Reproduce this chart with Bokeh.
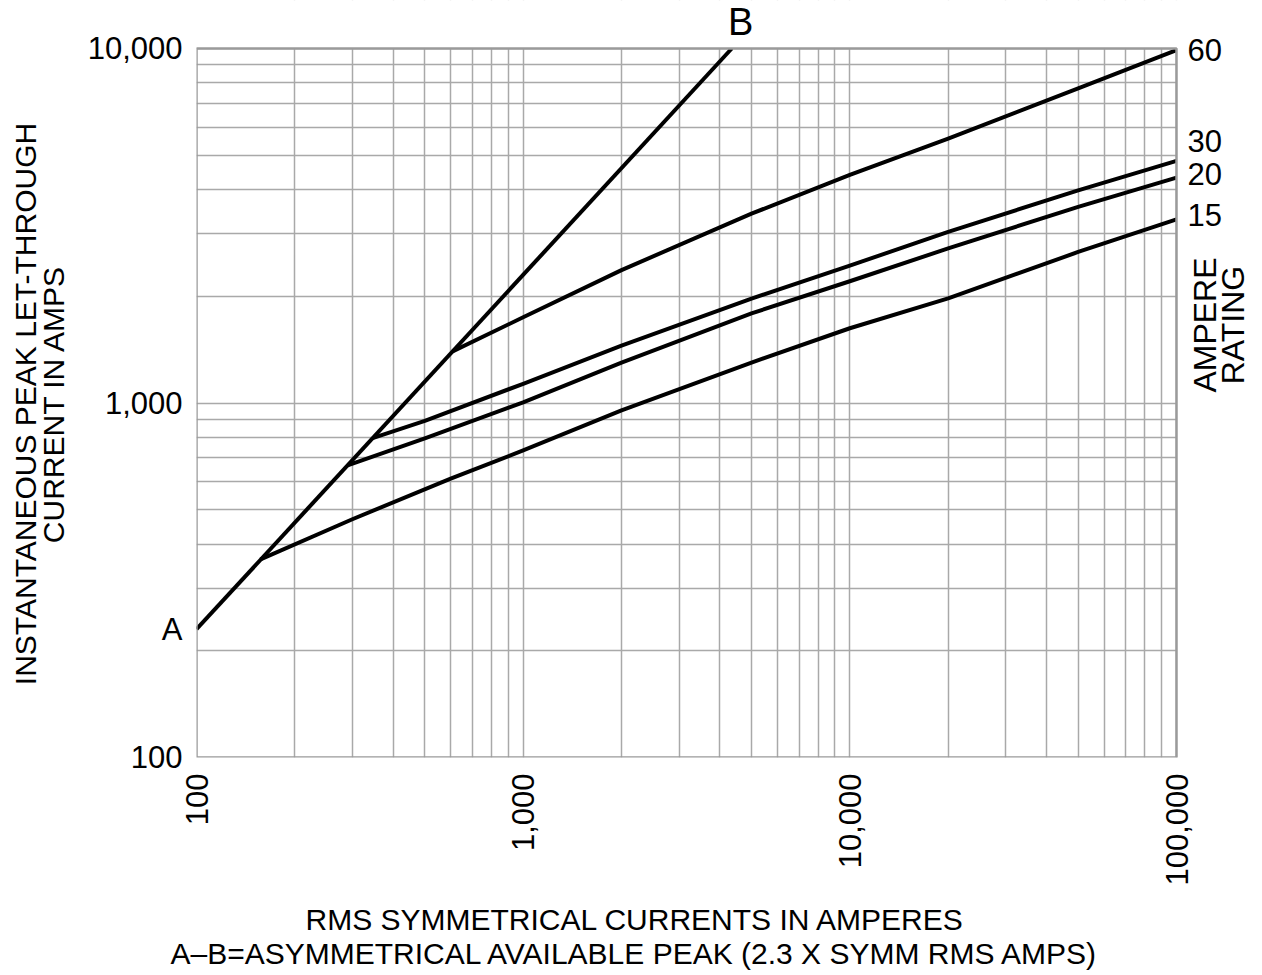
import math
from bokeh.plotting import figure
from bokeh.models import FixedTicker, Title, Label, BoxAnnotation
from bokeh.embed import file_html
from bokeh.resources import INLINE

# ---- data ----
# A-B: asymmetrical available peak = 2.3 x symmetrical RMS amps
x_ab = [100, 4350]
y_ab = [230, 10000]

x15 = [157, 300, 600, 1000, 2000, 5000, 10000, 20000, 50000, 100000]
y15 = [362, 470, 612, 735, 953, 1300, 1625, 1972, 2667, 3297]

x20 = [290, 500, 1000, 2000, 5000, 10000, 20000, 50000, 100000]
y20 = [667, 795, 1004, 1300, 1790, 2205, 2730, 3575, 4325]

x30 = [346, 500, 1000, 2000, 5000, 10000, 20000, 50000, 100000]
y30 = [796, 890, 1133, 1452, 1970, 2440, 3040, 3980, 4818]

x60 = [608, 1000, 2000, 5000, 10000, 20000, 50000, 100000]
y60 = [1398, 1745, 2371, 3420, 4400, 5570, 7716, 9900]

ratings = ["60", "30", "20", "15"]
rating_label_shift_px = [0, 20, 4, 4]   # label centre relative to its line end (up = +)

x_ticks = [100, 1000, 10000, 100000]
x_tick_labels = ["100", "1,000", "10,000", "100,000"]
y_ticks = [100, 1000, 10000]
y_tick_labels = ["100", "1,000", "10,000"]

x_title = ["RMS SYMMETRICAL CURRENTS  IN AMPERES",
           "A\u2013B=ASYMMETRICAL  AVAILABLE PEAK (2.3 X SYMM RMS AMPS)"]
y_title = ["INSTANTANEOUS PEAK LET-THROUGH", "CURRENT IN AMPS"]
right_title = ["AMPERE", "RATING"]

X_MIN, X_MAX = 100, 100000
Y_MIN, Y_MAX = 100, 10000

FONT = "Liberation Sans"
FS = "30px"
FS_TICK = "31px"
GRID = "#a9a9a9"
BORDER = "#9a9a9a"

# layout: data area 196..1176 x 48..757 px; the frame is extended right and up
# (and blanked there) so the end-of-curve labels are not clipped
W, H = 1256, 974
FL, FB = 196, 217
DATA_W, DATA_H = 980, 709
EXTRA_R = W - FL - DATA_W
EXTRA_T = H - FB - DATA_H
x_hi = X_MAX * 10 ** (math.log10(X_MAX / X_MIN) * EXTRA_R / DATA_W)
y_hi = Y_MAX * 10 ** (math.log10(Y_MAX / Y_MIN) * EXTRA_T / DATA_H)

p = figure(width=W, height=H, x_axis_type="log", y_axis_type="log",
           x_range=(X_MIN, x_hi), y_range=(Y_MIN, y_hi),
           output_backend="svg", toolbar_location=None,
           min_border_left=FL, min_border_right=0,
           min_border_top=0, min_border_bottom=FB)
p.background_fill_color = "white"
p.border_fill_color = "white"
p.outline_line_color = None

grid_vals_x = [m * 10 ** e for e in range(2, 5) for m in range(1, 10)] + [100000]
grid_vals_y = [m * 10 ** e for e in range(2, 4) for m in range(1, 10)] + [10000]
p.xgrid.ticker = FixedTicker(ticks=grid_vals_x)
p.ygrid.ticker = FixedTicker(ticks=grid_vals_y)
for g in (p.xgrid, p.ygrid):
    g.grid_line_color = GRID
    g.grid_line_width = 1.5
    g.grid_line_alpha = 1.0


def style_axis(ax, size=FS_TICK):
    ax.axis_line_color = None
    ax.major_tick_line_color = None
    ax.minor_tick_line_color = None
    ax.major_tick_out = 0
    ax.major_tick_in = 0
    ax.minor_tick_out = 0
    ax.minor_tick_in = 0
    ax.major_label_text_font = FONT
    ax.major_label_text_font_size = size
    ax.major_label_text_color = "black"
    ax.axis_label_text_font = FONT
    ax.axis_label_text_font_size = FS
    ax.axis_label_text_font_style = "normal"
    ax.axis_label_text_color = "black"


# bottom axis
xa = p.xaxis[0]
style_axis(xa)
xa.ticker = FixedTicker(ticks=x_ticks)
xa.major_label_overrides = {float(t): l for t, l in zip(x_ticks, x_tick_labels)}
xa.major_label_orientation = math.pi / 2
xa.major_label_standoff = 16

# left axis (with the "A" end of the A-B line)
ya = p.yaxis[0]
style_axis(ya)
left_ticks = y_ticks + [y_ab[0]]
left_labels = y_tick_labels + ["A"]
ya.ticker = FixedTicker(ticks=left_ticks)
ya.major_label_overrides = {float(t): l for t, l in zip(left_ticks, left_labels)}
ya.major_label_standoff = 14
# the axis title is centred on the (extended) frame; pad the line ends so that the
# visible text is centred on the data area instead
pad = "\u00a0" * round(EXTRA_T / 2 / (0.278 * 30) * 2)
ya.axis_label = "\n".join(t + pad for t in y_title)
ya.axis_label_standoff = 15
ya.axis_label_text_line_height = 0.85

# x-axis title (two lines)
t1 = Title(text=x_title[0], align="left", offset=109, standoff=24,
           text_font=FONT, text_font_size=FS, text_font_style="normal", text_color="black")
t2 = Title(text=x_title[1], align="left", offset=-26, standoff=-25,
           text_font=FONT, text_font_size=FS, text_font_style="normal", text_color="black")
p.add_layout(t1, "below")
p.add_layout(t2, "below")

LW = 4
for xs, ys in [(x_ab, y_ab), (x60, y60), (x30, y30), (x20, y20), (x15, y15)]:
    p.line(xs, ys, line_color="black", line_width=LW, line_cap="butt", line_join="round")

# blank the frame extensions, then draw the chart border
p.add_layout(BoxAnnotation(left=X_MAX, right=x_hi * 10, bottom=Y_MIN / 10, top=y_hi * 10,
                           fill_color="white", fill_alpha=1.0, line_color=None))
p.add_layout(BoxAnnotation(left=X_MIN / 10, right=x_hi * 10, bottom=Y_MAX, top=y_hi * 10,
                           fill_color="white", fill_alpha=1.0, line_color=None))
p.add_layout(BoxAnnotation(left=X_MIN, right=X_MAX, bottom=Y_MIN, top=Y_MAX,
                           fill_alpha=0.0, line_color=BORDER, line_width=2.5, line_alpha=1.0))

# "B" at the top end of the A-B line
p.add_layout(Label(x=x_ab[-1], y=y_ab[-1], x_offset=9, y_offset=27, text="B",
                   text_font=FONT, text_font_size="38px", text_color="black",
                   text_align="center", text_baseline="middle"))

# ampere rating labels at the line ends
ends = [y60[-1], y30[-1], y20[-1], y15[-1]]
for r, e, s in zip(ratings, ends, rating_label_shift_px):
    p.add_layout(Label(x=X_MAX, y=e, x_offset=11, y_offset=s, text=r,
                       text_font=FONT, text_font_size=FS_TICK, text_color="black",
                       text_align="left", text_baseline="middle"))

for txt, dx in zip(right_title, [28, 56]):
    p.add_layout(Label(x=X_MAX, y=1000, x_offset=dx, y_offset=78, text=txt, angle=math.pi / 2,
                       text_font=FONT, text_font_size="32px", text_color="black",
                       text_align="center", text_baseline="middle"))

open("out.html", "w").write(file_html(p, INLINE))
